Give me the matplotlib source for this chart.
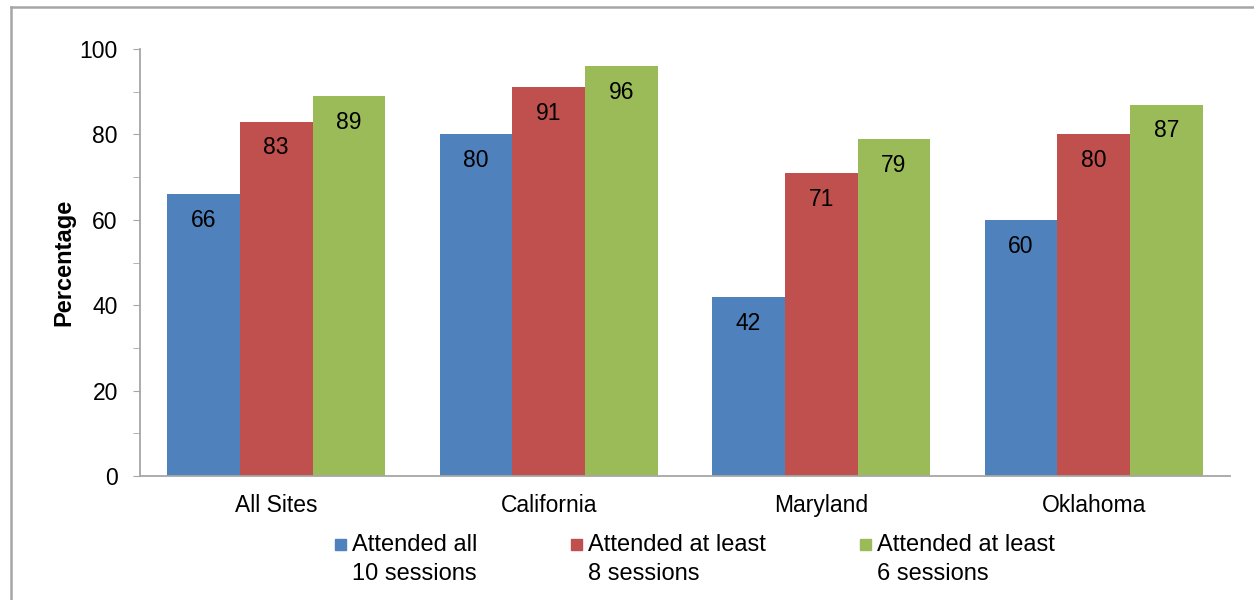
import matplotlib
matplotlib.use("Agg")
import matplotlib.pyplot as plt
import numpy as np
from matplotlib.lines import Line2D
from matplotlib.patches import Rectangle
from matplotlib.legend_handler import HandlerPatch

plt.rcParams['font.family'] = ['Liberation Sans', 'DejaVu Sans']

categories = ["All Sites", "California", "Maryland", "Oklahoma"]
series_names = ["Attended all\n10 sessions", "Attended at least\n8 sessions", "Attended at least\n6 sessions"]
all10 = [66, 80, 42, 60]
least8 = [83, 91, 71, 80]
least6 = [89, 96, 79, 87]
colors = ["#4F81BD", "#C0504D", "#9BBB59"]
yticks = [0, 20, 40, 60, 80, 100]

FS = 16.5
fig = plt.figure(figsize=(12.54, 6.0), dpi=100)
W, H = 1254, 600
ax = fig.add_axes([140 / W, 1 - 476 / H, (1230 - 140) / W, (476 - 49) / H])

x = np.arange(len(categories))
bw = 0.8 / 3
for i, (vals, name, c) in enumerate(zip([all10, least8, least6], series_names, colors)):
    pos = x - bw + i * bw
    ax.bar(pos, vals, width=bw, color=c, label=name, edgecolor='none')
    for p, v in zip(pos, vals):
        ax.annotate(f"{v}", (p, v), xytext=(0, -19), textcoords='offset points',
                    ha='center', va='center', fontsize=FS, color='black')

ax.set_xlim(-0.5, len(categories) - 0.5)
ax.set_ylim(0, 100)
ax.set_yticks(yticks)
ax.set_yticks([10, 30, 50, 70, 90], minor=True)
ax.set_xticks(x)
ax.set_xticklabels(categories)
ax.tick_params(axis='x', length=0, labelsize=FS, pad=13)
ax.tick_params(axis='y', which='both', length=5, color='#A6A6A6', labelsize=FS, pad=11, direction='out')
for s in ['top', 'right']:
    ax.spines[s].set_visible(False)
for s in ['left', 'bottom']:
    ax.spines[s].set_color('#A6A6A6')
    ax.spines[s].set_linewidth(1.3)
ax.set_ylabel("Percentage", fontsize=17, fontweight='bold', labelpad=3)


def top_square(legend, orig_handle, xdescent, ydescent, width, height, fontsize):
    sq = 8
    return Rectangle((-xdescent, -ydescent + height - sq), sq, sq)


LFS = 17
handles = [Rectangle((0, 0), 1, 1, color=c) for c in colors]
leg = fig.legend(handles, series_names, loc='upper left', bbox_to_anchor=(335 / W, 1 - 534 / H),
                 ncol=3, frameon=False, fontsize=LFS, handlelength=0.48, handleheight=2.4,
                 handletextpad=0.22, columnspacing=4.0, borderpad=0, borderaxespad=0,
                 handler_map={Rectangle: HandlerPatch(patch_func=top_square)})
for t in leg.get_texts():
    t.set_linespacing(1.4)

# figure border (top and left visible)
fig.add_artist(Line2D([11 / W, 1.0], [1 - 7 / H, 1 - 7 / H], transform=fig.transFigure,
                      color='#A6A6A6', lw=1.8))
fig.add_artist(Line2D([11 / W, 11 / W], [0, 1 - 7 / H], transform=fig.transFigure,
                      color='#A6A6A6', lw=1.8))

fig.savefig("out.png", dpi=100)
